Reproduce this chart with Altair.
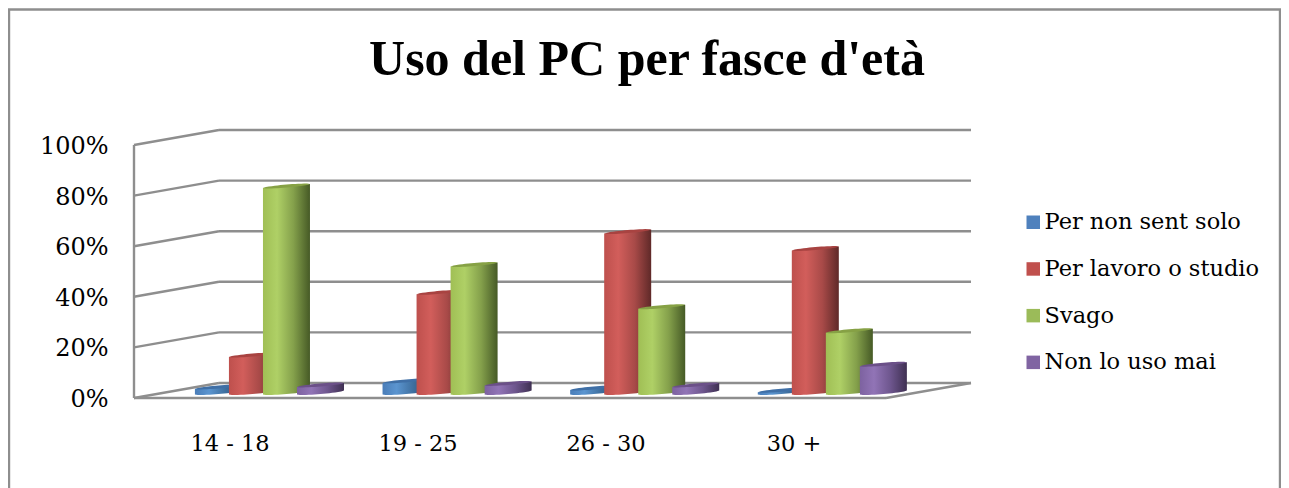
import altair as alt
import numpy as np
import pandas as pd

categories = ["14 - 18", "19 - 25", "26 - 30", "30 +"]
series = ["Per non sent solo", "Per lavoro o studio", "Svago", "Non lo uso mai"]
per_non_sent_solo = [1.6, 4.0, 1.2, 0.3]
per_lavoro = [14.2, 39.0, 63.0, 56.3]
svago = [81.0, 50.0, 33.3, 23.8]
non_lo_uso = [2.4, 3.0, 2.4, 10.6]
values = [per_non_sent_solo, per_lavoro, svago, non_lo_uso]
colors = ["#4F81BD", "#C0504D", "#9BBB59", "#8064A2"]
cap_colors = ["#3F6FA6", "#A84341", "#86A145", "#6B5088"]
grads = [
    ["#4A7DB8", "#5B95D0", "#3E6F9F", "#2A4D74"],
    ["#BE504D", "#D25E5B", "#A84A48", "#5F2928"],
    ["#A0BF55", "#AFD066", "#84A04B", "#465A26"],
    ["#7D62A0", "#9174B6", "#6E568E", "#3F3052"],
]
ticks = [0, 20, 40, 60, 80, 100]
TEXT_FONT = "DejaVu Serif"

# geometry of the 3D projection, in pixels
UX, UY = 188.0, 2.53
PW, PH = 840, 270
DEPTH_X, DEPTH_Y = 85 / UX, 15 / UY
HALF = 23.5 / UX
SERIES_OFF = [0.449, 0.630, 0.811, 0.992]
CAT_STEP = 0.998
TOP_LIFT = 7 / UY
BASE_LIFT = 5.5 / UY
SLANT = 2 / UY
CAP_H = 1.5 / UY

x_scale = alt.Scale(domain=[0, PW / UX], nice=False, zero=False)
y_scale = alt.Scale(domain=[0, PH / UY], nice=False, zero=False)

# walls
walls = []
for v in ticks:
    walls.append(dict(k=f"b{v}", u=DEPTH_X, w=v + DEPTH_Y))
    walls.append(dict(k=f"b{v}", u=4 + DEPTH_X, w=v + DEPTH_Y))
    walls.append(dict(k=f"s{v}", u=0, w=v))
    walls.append(dict(k=f"s{v}", u=DEPTH_X, w=v + DEPTH_Y))
walls += [dict(k="front", u=0, w=0), dict(k="front", u=4, w=0),
          dict(k="left", u=0, w=0), dict(k="left", u=0, w=100),
          dict(k="right", u=4, w=0), dict(k="right", u=4 + DEPTH_X, w=DEPTH_Y)]
walls_df = pd.DataFrame(walls)

wall_layer = alt.Chart(walls_df).mark_line(color="#8E8E8E", strokeWidth=2.4).encode(
    x=alt.X("u:Q", scale=x_scale,
            axis=alt.Axis(values=[0.5, 1.5, 2.5, 3.5], title=None, domain=False, ticks=False, grid=False,
                          labelExpr="['" + "','".join(categories) + "'][datum.value-0.5]",
                          labelFont=TEXT_FONT, labelFontSize=22.5, labelColor="#000000",
                          labelPadding=34, labelOffset=1.5)),
    y=alt.Y("w:Q", scale=y_scale,
            axis=alt.Axis(values=ticks, title=None, domain=False, ticks=False, grid=False,
                          labelExpr="datum.value + '%'",
                          labelFont=TEXT_FONT, labelFontSize=24, labelColor="#000000",
                          labelPadding=26, labelOffset=1.5)),
    detail="k:N",
)

ts = np.linspace(-1, 1, 17)
layers = []
for si, name in enumerate(series):
    body, cap = [], []
    for ci, cat in enumerate(categories):
        cx = SERIES_OFF[si] + ci * CAT_STEP
        v = values[si][ci]
        for t in ts:
            bulge = float(np.sqrt(max(0, 1 - t * t)))
            u = cx + HALF * t
            body.append(dict(cat=cat, u=u, a=v + TOP_LIFT + SLANT * t,
                             b=BASE_LIFT + SLANT * t - CAP_H * bulge))
            cap.append(dict(cat=cat, u=u, a=v + TOP_LIFT + SLANT * t + CAP_H * bulge,
                            b=v + TOP_LIFT + SLANT * t - CAP_H * bulge))
    g = grads[si]
    fill = alt.LinearGradient(gradient="linear", x1=0, x2=1, y1=0, y2=0, stops=[
        alt.GradientStop(offset=0, color=g[0]),
        alt.GradientStop(offset=0.3, color=g[1]),
        alt.GradientStop(offset=0.65, color=g[2]),
        alt.GradientStop(offset=1, color=g[3]),
    ])
    for rows, paint in ((body, fill), (cap, cap_colors[si])):
        layers.append(alt.Chart(pd.DataFrame(rows)).mark_area(fill=paint, interpolate="linear").encode(
            x=alt.X("u:Q", scale=x_scale),
            y=alt.Y("a:Q", scale=y_scale),
            y2="b:Q",
            detail="cat:N",
        ))

legend_layer = alt.Chart(pd.DataFrame({"s": series, "u": [0.0] * 4, "w": [0.0] * 4})).mark_square(opacity=0).encode(
    x=alt.X("u:Q", scale=x_scale),
    y=alt.Y("w:Q", scale=y_scale),
    color=alt.Color("s:N", scale=alt.Scale(domain=series, range=colors), sort=None,
                    legend=alt.Legend(orient="none", legendX=1022 - 134, legendY=211 - 128, title=None,
                                      symbolType="square", symbolSize=182, symbolOpacity=1, symbolStrokeWidth=0,
                                      labelFont=TEXT_FONT, labelFontSize=22.5, labelColor="#000000",
                                      rowPadding=23.7, labelOffset=0, labelLimit=400)),
)

frame = alt.Chart(pd.DataFrame({"a": [0]})).mark_rect(fill="transparent", stroke="#8E8E8E", strokeWidth=2.4).encode(
    x=alt.value(-125), x2=alt.value(1146), y=alt.value(-118.5), y2=alt.value(420),
)

chart = alt.layer(frame, wall_layer, *layers, legend_layer).properties(
    width=PW, height=PH,
    autosize=alt.AutoSizeParams(type="none", contains="content"),
    padding={"left": 126, "top": 120, "right": 307, "bottom": 90},
    title=alt.TitleParams("Uso del PC per fasce d'età", font="Liberation Serif", fontSize=50, fontWeight="bold",
                          color="#000000", anchor="middle", dx=93, offset=-77),
).configure_view(stroke=None)

chart.save("out.html", embed_options={"renderer": "svg", "actions": False})
